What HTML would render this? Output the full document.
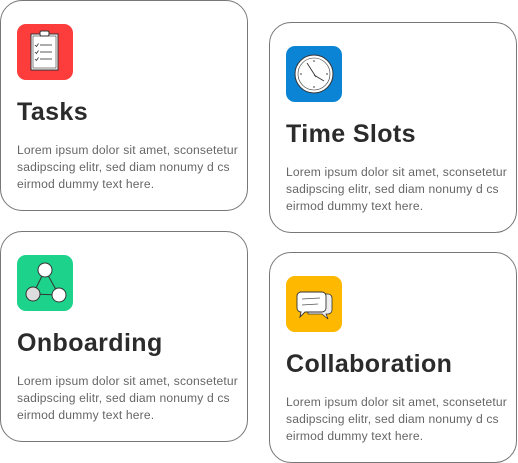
<!DOCTYPE html>
<html><head><meta charset="utf-8"><style>
html,body{margin:0;padding:0;background:#fff;}
body{width:518px;height:463px;position:relative;overflow:hidden;font-family:"Liberation Sans",sans-serif;}
.card{position:absolute;width:246px;height:209px;border:1px solid #777;border-radius:22px;box-sizing:content-box;}
.icon{position:absolute;left:16px;top:23px;width:56px;height:56px;border-radius:9px;}
.icon svg{position:absolute;left:0;top:0;}
h2{position:absolute;left:16px;top:97px;margin:0;font-size:25px;font-weight:bold;color:#2b2b2b;letter-spacing:0.4px;white-space:nowrap;}
p{position:absolute;left:16px;top:141px;margin:0;font-size:12.1px;line-height:17px;color:#666;white-space:nowrap;letter-spacing:0.15px;}
</style></head><body>

<div class="card" style="left:0;top:0;">
 <div class="icon" style="background:#fd3c3c;">
  <svg width="56" height="56"><rect x="14" y="10" width="27" height="36" fill="#fff" stroke="#333" stroke-width="1"/><rect x="16" y="12" width="23" height="32" fill="#fff" stroke="#333" stroke-width="0.6"/><rect x="23" y="7" width="9" height="5" rx="1.5" fill="#fff" stroke="#333"/>
  <g stroke="#333" stroke-width="0.8"><line x1="23" y1="21" x2="35" y2="21"/><line x1="23" y1="28" x2="35" y2="28"/><line x1="23" y1="35" x2="35" y2="35"/><path d="M18 21l1.5 1.5 2-3M18 28l1.5 1.5 2-3M18 35l1.5 1.5 2-3" fill="none"/></g></svg>
 </div>
 <h2>Tasks</h2>
 <p>Lorem ipsum dolor sit amet, sconsetetur<br>sadipscing elitr, sed diam nonumy d cs<br>eirmod dummy text here.</p>
</div>

<div class="card" style="left:269px;top:22px;">
 <div class="icon" style="background:#0b84d6;">
  <svg width="56" height="56"><circle cx="28" cy="28" r="19" fill="#fff" stroke="#333" stroke-width="1"/><circle cx="28" cy="28" r="16" fill="none" stroke="#333" stroke-width="0.6"/>
  <g stroke="#333" stroke-width="0.9"><line x1="28" y1="14" x2="28" y2="16"/><line x1="28" y1="40" x2="28" y2="42"/><line x1="14" y1="28" x2="16" y2="28"/><line x1="40" y1="28" x2="42" y2="28"/><line x1="21" y1="17" x2="30" y2="31"/><line x1="28" y1="29" x2="38" y2="35"/></g></svg>
 </div>
 <h2>Time Slots</h2>
 <p>Lorem ipsum dolor sit amet, sconsetetur<br>sadipscing elitr, sed diam nonumy d cs<br>eirmod dummy text here.</p>
</div>

<div class="card" style="left:0;top:231px;">
 <div class="icon" style="background:#1dd38b;">
  <svg width="56" height="56"><g stroke="#333" stroke-width="1"><line x1="28" y1="15" x2="16" y2="39"/><line x1="28" y1="15" x2="42" y2="40"/><line x1="16" y1="39" x2="42" y2="40"/></g>
  <circle cx="28" cy="15" r="7" fill="#fff" stroke="#333"/><circle cx="16" cy="39" r="7" fill="#ddd" stroke="#333"/><circle cx="42" cy="40" r="7" fill="#fff" stroke="#333"/></svg>
 </div>
 <h2>Onboarding</h2>
 <p>Lorem ipsum dolor sit amet, sconsetetur<br>sadipscing elitr, sed diam nonumy d cs<br>eirmod dummy text here.</p>
</div>

<div class="card" style="left:269px;top:252px;">
 <div class="icon" style="background:#ffb800;">
  <svg width="56" height="56"><path d="M22 18h20a4 4 0 0 1 4 4v12a4 4 0 0 1-4 4h-2l2 5-6-5H22z" fill="#eee" stroke="#333" stroke-width="0.8"/>
  <path d="M14 16h22a4 4 0 0 1 4 4v12a4 4 0 0 1-4 4H19l-5 5 1-5a4 4 0 0 1-4-4V20a4 4 0 0 1 4-4z" fill="#fff" stroke="#333" stroke-width="0.9"/>
  <g stroke="#555" stroke-width="0.8"><line x1="16" y1="23" x2="34" y2="22"/><line x1="16" y1="29" x2="32" y2="28"/></g></svg>
 </div>
 <h2>Collaboration</h2>
 <p>Lorem ipsum dolor sit amet, sconsetetur<br>sadipscing elitr, sed diam nonumy d cs<br>eirmod dummy text here.</p>
</div>

</body></html>
